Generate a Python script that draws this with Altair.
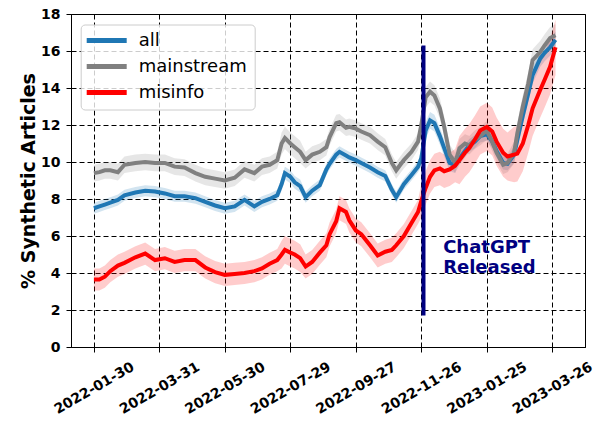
import altair as alt
import pandas as pd

SERIES = ["all", "mainstream", "misinfo"]
COLORS = ["#1f77b4", "#808080", "#ff0000"]

DATES = [
    "2022-01-30", "2022-02-04", "2022-02-09", "2022-02-14", "2022-02-21", "2022-02-27", "2022-03-09", "2022-03-18", "2022-03-27", "2022-04-05",
    "2022-04-14", "2022-04-23", "2022-05-03", "2022-05-12", "2022-05-21", "2022-05-30", "2022-06-08", "2022-06-17", "2022-06-26", "2022-07-03",
    "2022-07-10", "2022-07-17", "2022-07-21", "2022-07-24", "2022-07-29", "2022-08-02", "2022-08-07", "2022-08-12", "2022-08-18", "2022-08-25",
    "2022-08-31", "2022-09-03", "2022-09-09", "2022-09-12", "2022-09-18", "2022-09-21", "2022-09-27", "2022-10-02", "2022-10-10", "2022-10-17",
    "2022-10-24", "2022-10-30", "2022-11-03", "2022-11-10", "2022-11-17", "2022-11-23", "2022-11-26", "2022-11-30", "2022-12-04", "2022-12-08",
    "2022-12-13", "2022-12-17", "2022-12-22", "2022-12-27", "2022-12-31", "2023-01-05", "2023-01-09", "2023-01-14", "2023-01-19", "2023-01-25",
    "2023-01-30", "2023-02-03", "2023-02-09", "2023-02-13", "2023-02-19", "2023-02-22", "2023-02-27", "2023-03-04", "2023-03-08", "2023-03-15",
    "2023-03-19", "2023-03-24", "2023-03-29",
]

ALL = [
    7.5, 7.6, 7.7, 7.8, 7.95, 8.2, 8.35, 8.45, 8.4, 8.3,
    8.15, 8.15, 8.05, 7.85, 7.65, 7.5, 7.6, 7.95, 7.6, 7.85,
    8.0, 8.2, 8.8, 9.4, 9.2, 8.9, 8.7, 8.1, 8.45, 8.75,
    9.6, 9.9, 10.4, 10.55, 10.35, 10.25, 10.1, 9.95, 9.7, 9.45,
    9.25, 8.5, 8.1, 8.8, 9.3, 9.75, 10.2, 11.7, 12.25, 12.1,
    11.4, 10.75, 9.95, 9.85, 10.2, 10.6, 10.9, 11.1, 11.4, 11.5,
    11.1, 10.6, 9.95, 9.9, 10.4, 11.2, 12.5, 13.7, 14.7, 15.6,
    15.9, 16.2, 16.6,
]
ALL_ERR = [0.3] * 22 + [0.35] * 5 + [0.3] * 19 + [0.45] * 8 + [0.35] * 10 + [0.45] * 9

MAINSTREAM = [
    9.4, 9.45, 9.55, 9.55, 9.45, 9.85, 9.95, 10.0, 9.95, 9.95,
    9.75, 9.7, 9.4, 9.2, 9.1, 9.0, 9.15, 9.6, 9.4, 9.75,
    9.85, 10.1, 11.0, 11.3, 11.0, 10.8, 10.55, 10.1, 10.4, 10.55,
    10.8, 11.35, 12.1, 12.15, 11.85, 11.9, 11.8, 11.65, 11.45, 11.1,
    10.8, 9.95, 9.55, 10.1, 10.55, 11.1, 12.0, 13.5, 13.8, 13.6,
    12.9, 11.9, 10.4, 9.95, 10.75, 11.0, 10.9, 11.2, 11.4, 11.7,
    11.1, 10.5, 9.85, 9.95, 10.5, 11.55, 13.0, 14.25, 15.5, 15.95,
    16.3, 16.7, 16.85,
]
MAINSTREAM_ERR = [0.45] * 22 + [0.6] * 5 + [0.45] * 19 + [0.55] * 8 + [0.5] * 10 + [0.6] * 9

MISINFO = [
    3.65, 3.65, 3.8, 4.1, 4.4, 4.55, 4.85, 5.05, 4.7, 4.8,
    4.6, 4.7, 4.7, 4.3, 4.05, 3.9, 3.95, 4.0, 4.1, 4.25,
    4.5, 4.7, 5.0, 5.25, 5.1, 5.0, 4.8, 4.35, 4.6, 5.1,
    5.5, 6.1, 6.8, 7.5, 7.3, 6.85, 6.3, 6.1, 5.5, 4.95,
    5.15, 5.25, 5.5, 6.0, 6.7, 7.3, 7.9, 8.6, 9.2, 9.55,
    9.65, 9.5, 9.6, 9.8, 10.1, 10.5, 10.75, 11.2, 11.7, 11.9,
    11.65, 11.1, 10.5, 10.3, 10.4, 10.45, 11.0, 12.0, 12.9, 13.9,
    14.45, 15.15, 16.2,
]
MISINFO_ERR = [0.6] * 22 + [0.75] * 5 + [0.65] * 19 + [0.9] * 8 + [1.3] * 10 + [1.5] * 9

TICK_DATES = ["2022-01-30", "2022-03-31", "2022-05-30", "2022-07-29",
              "2022-09-27", "2022-11-26", "2023-01-25", "2023-03-26"]
Y_TICKS = [0, 2, 4, 6, 8, 10, 12, 14, 16, 18]
X_DOMAIN = ["2022-01-09", "2023-04-25"]
Y_DOMAIN = [0, 18]

RELEASE_DATE = "2022-11-28"
RELEASE_SPAN = [1.7, 16.3]
NOTE_DATE = "2022-12-16"
NOTE_Y = 5.1
NOTE_TEXT = "ChatGPT\nReleased"

FONT = "DejaVu Sans"


def dt(s):
    y, m, d = (int(p) for p in s.split("-"))
    return alt.DateTime(year=y, month=m, date=d)


rows = []
for name, vals, errs in zip(SERIES, [ALL, MAINSTREAM, MISINFO], [ALL_ERR, MAINSTREAM_ERR, MISINFO_ERR]):
    for d, v, e in zip(DATES, vals, errs):
        rows.append({"series": name, "date": d + "T00:00:00", "value": v,
                     "lo": round(v - e, 3), "hi": round(v + e, 3)})
df = pd.DataFrame(rows)

release_df = pd.DataFrame({"date": [RELEASE_DATE + "T00:00:00"],
                           "y0": [RELEASE_SPAN[0]], "y1": [RELEASE_SPAN[1]]})
note_df = pd.DataFrame({"date": [NOTE_DATE + "T00:00:00"], "y": [NOTE_Y], "text": [NOTE_TEXT]})

x_scale = alt.Scale(domain=[dt(X_DOMAIN[0]), dt(X_DOMAIN[1])])
y_scale = alt.Scale(domain=Y_DOMAIN, nice=False)

x_axis = alt.Axis(values=[dt(s) for s in TICK_DATES], format="%Y-%m-%d",
                  labelAngle=-30, labelAlign="center", labelBaseline="middle",
                  labelPadding=36, labelOverlap=False, labelFlush=False, title=None)
y_axis = alt.Axis(values=Y_TICKS, title="% Synthetic Articles", labelPadding=6,
                  labelOverlap=False, labelFlush=False,
                  titlePadding=2, titleFontSize=19, titleFontWeight="bold")


def X(field):
    return alt.X(field, type="temporal", scale=x_scale, axis=x_axis, title=None)


def Y(field):
    return alt.Y(field, type="quantitative", scale=y_scale, axis=y_axis,
                 title="% Synthetic Articles")


base = alt.Chart(df)

bands = base.mark_area(opacity=0.2).encode(
    x=X("date"),
    y=Y("lo"),
    y2="hi:Q",
    color=alt.Color("series:N", scale=alt.Scale(domain=SERIES, range=COLORS), legend=None),
)

lines = base.mark_line(strokeWidth=4).encode(
    x=X("date"),
    y=Y("value"),
    color=alt.Color("series:N", scale=alt.Scale(domain=SERIES, range=COLORS), legend=alt.Legend(
        title=None, orient="none", legendX=9.7, legendY=10.5,
        symbolType="M-4,0H4", symbolSize=100, symbolStrokeWidth=5,
        symbolOffset=10, labelOffset=23, labelFontSize=18, labelFont=FONT,
        labelColor="black", rowPadding=6, padding=7,
        fillColor="rgba(255,255,255,0.8)", strokeColor="#cccccc", cornerRadius=4)),
)

vline = alt.Chart(release_df).mark_rule(color="#000080", strokeWidth=4).encode(
    x=X("date"),
    y=Y("y0"),
    y2="y1:Q",
)

note = alt.Chart(note_df).mark_text(
    align="left", baseline="alphabetic", fontSize=18, fontWeight="bold",
    font=FONT, color="#000080", lineBreak="\n", lineHeight=20.5,
).encode(
    x=X("date"),
    y=Y("y"),
    text="text:N",
)

chart = alt.layer(bands, lines, vline, note).resolve_scale(
    color="independent"
).properties(
    width=514, height=333,
    autosize=alt.AutoSizeParams(type="none"),
    padding={"left": 63, "top": 6, "right": 10, "bottom": 71},
).configure_view(
    stroke="black", strokeWidth=1,
).configure_axis(
    labelFont=FONT, labelFontSize=14, labelFontWeight="bold", labelColor="black",
    titleFont=FONT, titleColor="black",
    tickSize=5, tickColor="black", tickWidth=1,
    domainColor="black", domainWidth=1,
    grid=True, gridColor="black", gridDash=[5, 3], gridOpacity=1, gridWidth=1,
)

chart.save("out.html", embed_options={"renderer": "svg", "actions": False})
